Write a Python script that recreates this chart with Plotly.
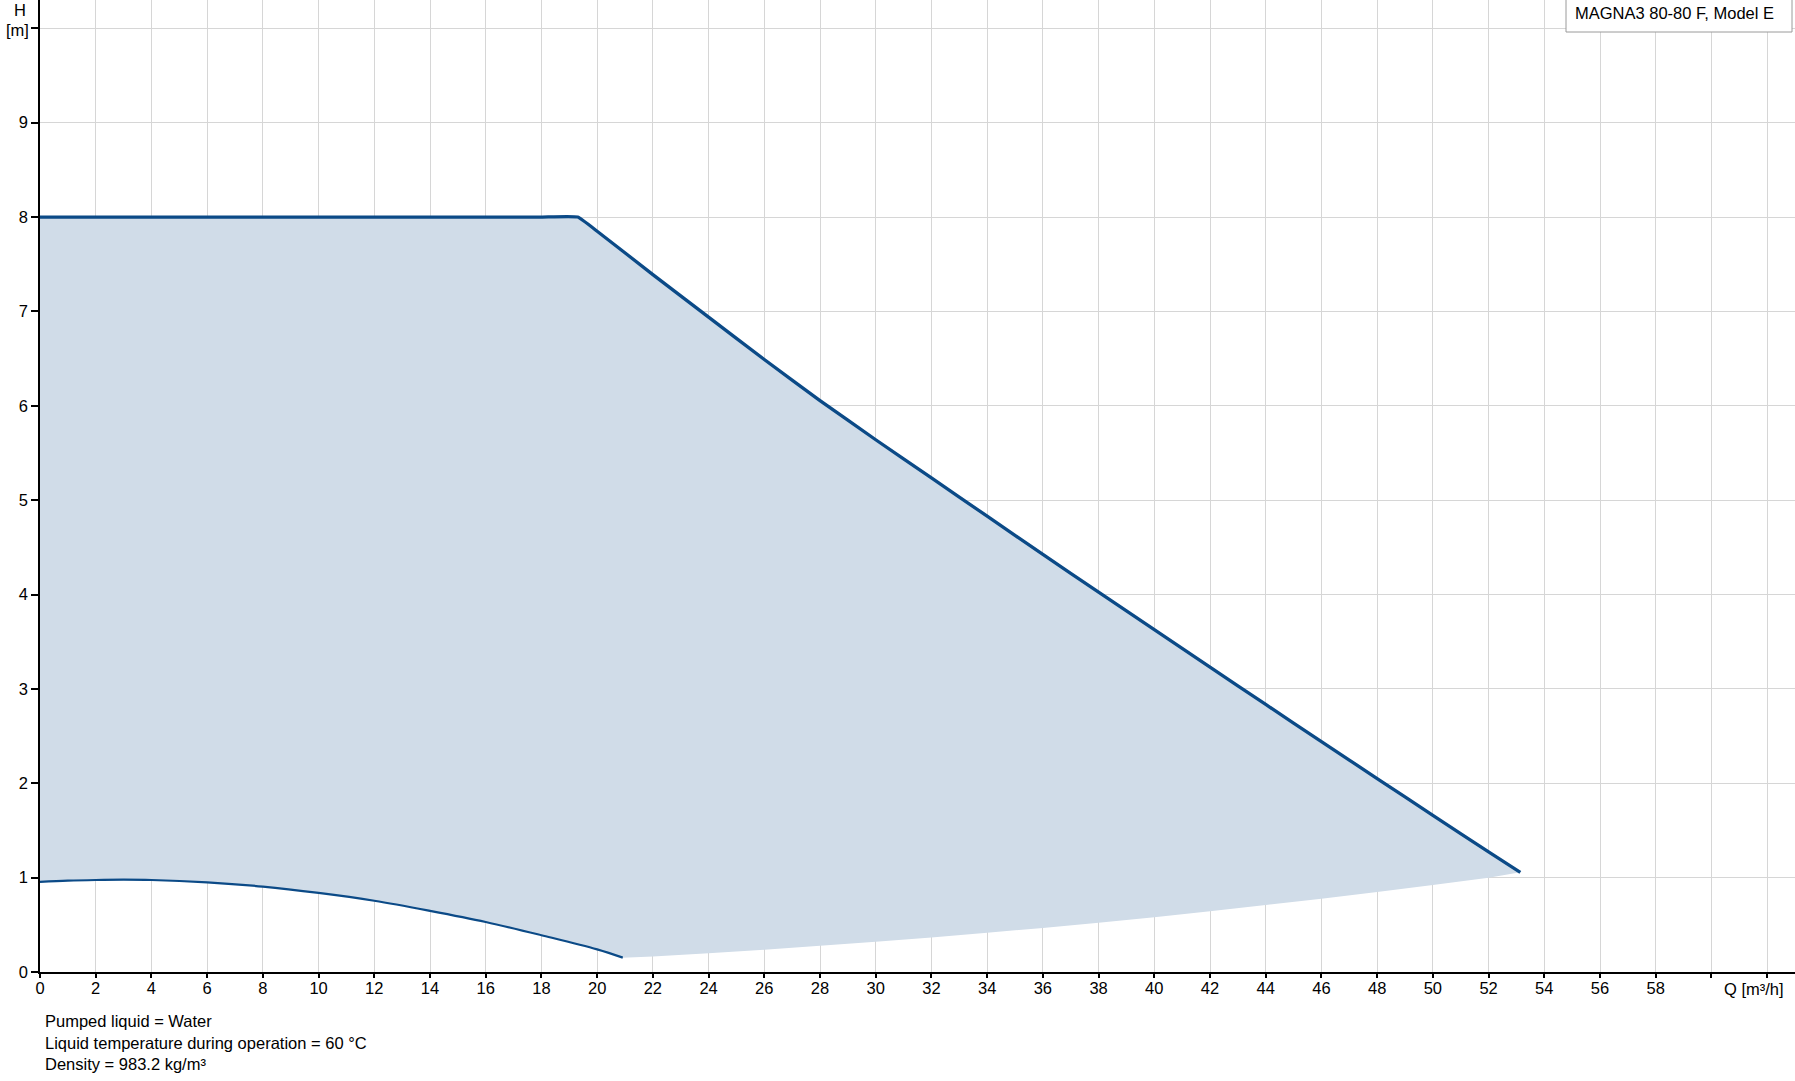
import plotly.graph_objects as go

# ---- data ----
# max curve (upper boundary)
q_max = [0, 4, 8, 12, 16, 18, 19.3, 20, 22, 24, 26, 28, 30, 32, 34, 36, 38, 40, 42, 44, 46, 48, 50, 52, 53.14]
h_max = [8.0, 8.0, 8.0, 8.0, 8.0, 8.0, 8.0, 7.85, 7.39, 6.94, 6.49, 6.055, 5.64, 5.235, 4.83, 4.425, 4.025, 3.628, 3.23, 2.835, 2.442, 2.05, 1.66, 1.272, 1.056]

# min curve
q_min = [0, 1, 2, 3, 4, 6, 8, 10, 12, 14, 16, 18, 20, 20.92]
h_min = [0.955, 0.968, 0.975, 0.978, 0.975, 0.95, 0.905, 0.838, 0.755, 0.648, 0.53, 0.39, 0.24, 0.152]

# lower boundary of operating area (not stroked)
q_low = [20.92, 22, 24, 26, 28, 30, 32, 34, 36, 38, 40, 42, 44, 46, 48, 50, 52, 53.14]
h_low = [0.152, 0.165, 0.198, 0.236, 0.277, 0.32, 0.366, 0.415, 0.467, 0.522, 0.58, 0.645, 0.71, 0.777, 0.847, 0.921, 1.0, 1.056]

x_tickvals = list(range(0, 63, 2))
x_ticktext = [str(v) if v <= 58 else "" for v in x_tickvals]
y_tickvals = list(range(0, 11))
y_ticktext = [str(v) if v <= 9 else "" for v in y_tickvals]

title_text = "MAGNA3 80-80 F, Model E"
footer_lines = ["Pumped liquid = Water",
                "Liquid temperature during operation = 60 °C",
                "Density = 983.2 kg/m³"]

LINE = "#0b4a87"
FILL = "rgb(208,220,232)"
GRID = "#d6d6d6"
FONT = "Liberation Sans, Arial, sans-serif"
FS = 16.5

# polygon: max curve forward, low boundary backward, min curve backward
poly_x = q_max + q_low[::-1] + q_min[::-1]
poly_y = h_max + h_low[::-1] + h_min[::-1]

fig = go.Figure()
fig.add_trace(go.Scatter(x=poly_x, y=poly_y, fill="toself", fillcolor=FILL,
                         mode="none", hoverinfo="skip", showlegend=False))
fig.add_trace(go.Scatter(x=q_max, y=h_max, mode="lines",
                         line=dict(color=LINE, width=3.3, shape="spline", smoothing=0.35),
                         showlegend=False))
fig.add_trace(go.Scatter(x=q_min, y=h_min, mode="lines",
                         line=dict(color=LINE, width=2.2, shape="spline"), showlegend=False))
# invisible trace on overlay axes (tick marks only)
fig.add_trace(go.Scatter(x=[0], y=[0], xaxis="x2", yaxis="y", mode="none",
                         hoverinfo="skip", showlegend=False))

W, H = 1795, 1081
L, R, T, B = 40, 0, 0, 109
pw, ph = W - L - R, H - T - B

def px(xp):
    return (xp - L) / pw

def py(yp):
    return 1 - (yp - T) / ph

fig.update_layout(
    width=W, height=H,
    margin=dict(l=L, r=R, t=T, b=B, pad=0),
    paper_bgcolor="white", plot_bgcolor="white",
    font=dict(family=FONT, size=FS, color="#000"),
    showlegend=False,
    xaxis=dict(range=[0, 63], tickvals=x_tickvals, ticktext=x_ticktext,
               showgrid=True, gridcolor=GRID, gridwidth=1,
               showline=True, linecolor="#000", linewidth=1.5,
               ticks="", zeroline=False, tickfont=dict(family=FONT, size=FS)),
    xaxis2=dict(range=[0, 63], overlaying="x", side="bottom", tickvals=x_tickvals,
                showticklabels=False, showgrid=False, showline=False, zeroline=False,
                ticks="outside", ticklen=5, tickcolor="#000", tickwidth=1.5),
    yaxis=dict(range=[0, 10.3], tickvals=y_tickvals, ticktext=y_ticktext,
               showgrid=True, gridcolor=GRID, gridwidth=1,
               showline=True, linecolor="#000", linewidth=1.5,
               ticks="outside", ticklen=7, tickcolor="#000", tickwidth=1.5,
               zeroline=False, tickfont=dict(family=FONT, size=FS)),
)

# legend-like box at top right
fig.add_shape(type="rect", xref="paper", yref="paper",
              x0=px(1566), x1=px(1792), y0=py(32), y1=py(-2),
              line=dict(color="#9a9a9a", width=1), fillcolor="white", layer="above")
fig.add_annotation(xref="paper", yref="paper", x=px(1573), y=py(13),
                   xanchor="left", yanchor="middle", showarrow=False,
                   text=title_text, font=dict(family=FONT, size=FS, color="#000"))

# axis titles
fig.add_annotation(xref="paper", yref="paper", x=px(20), y=py(10),
                   xanchor="center", yanchor="middle", showarrow=False,
                   text="H", font=dict(family=FONT, size=FS, color="#000"))
fig.add_annotation(xref="paper", yref="paper", x=px(31), y=py(30),
                   xanchor="right", yanchor="middle", showarrow=False,
                   text="[m]", font=dict(family=FONT, size=FS, color="#000"))
fig.add_annotation(xref="paper", yref="paper", x=px(1754), y=py(989),
                   xanchor="center", yanchor="middle", showarrow=False,
                   text="Q [m³/h]", font=dict(family=FONT, size=FS, color="#000"))

# footer
for t, yc in zip(footer_lines, [1021, 1042.5, 1064]):
    fig.add_annotation(xref="paper", yref="paper", x=px(43), y=py(yc),
                       xanchor="left", yanchor="middle", showarrow=False,
                       text=t, font=dict(family=FONT, size=FS, color="#000"))

fig.write_html("out.html", config={"displayModeBar": False},
               post_script="document.body.style.margin='0';")
